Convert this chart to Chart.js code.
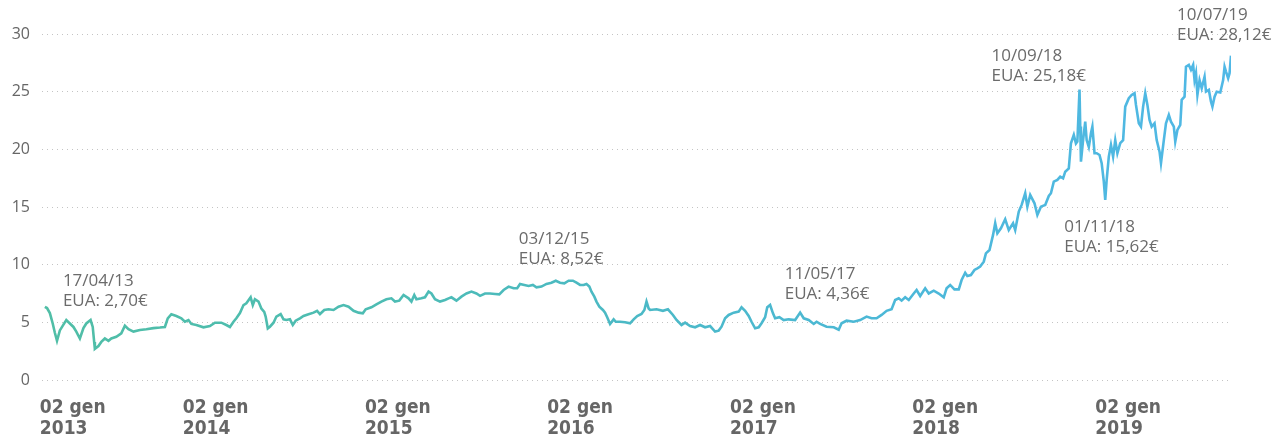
<!DOCTYPE html>
<html>
<head>
<meta charset="utf-8">
<script src="https://cdn.jsdelivr.net/npm/chart.js@4"></script>
<style>
  html, body { margin: 0; padding: 0; background: #fff; }
  #wrap { width: 1287px; height: 441px; }
</style>
</head>
<body>
<div id="wrap"><canvas id="lineChart" width="1287" height="441"></canvas></div>
<script>
// trading sessions since 02 gen 2013 and EUA price (€)
const sessions = [
    0, 3, 7, 11, 14, 17, 21, 26, 30, 35, 40, 44, 49, 54, 58, 64, 67, 69, 70, 75,
    79, 84, 89, 93, 100, 107, 112, 117, 124, 133, 142, 152, 161, 168, 172, 177, 184, 191, 196, 201,
    205, 212, 222, 231, 238, 247, 254, 259, 264, 268, 273, 278, 282, 288, 291, 294, 299, 303, 307, 309,
    312, 315, 320, 324, 330, 334, 338, 343, 347, 351, 357, 362, 369, 376, 381, 385, 391, 397, 404, 411,
    418, 425, 432, 439, 445, 449, 457, 464, 471, 478, 485, 490, 496, 502, 509, 513, 517, 520, 527, 532,
    537, 541, 546, 553, 560, 565, 569, 576, 583, 590, 597, 604, 609, 616, 623, 630, 636, 642, 649, 656,
    661, 665, 671, 677, 683, 688, 695, 702, 709, 715, 721, 727, 733, 739, 744, 749, 754, 758, 762, 765,
    769, 772, 776, 781, 784, 787, 791, 796, 799, 805, 812, 819, 824, 829, 835, 839, 842, 845, 847, 856,
    865, 872, 879, 884, 891, 896, 903, 910, 917, 924, 931, 938, 943, 947, 952, 957, 964, 971, 975, 980,
    985, 989, 994, 999, 1003, 1008, 1011, 1015, 1019, 1022, 1028, 1034, 1041, 1050, 1057, 1062, 1069, 1076, 1080, 1085,
    1094, 1104, 1111, 1115, 1122, 1132, 1141, 1150, 1157, 1164, 1171, 1178, 1185, 1190, 1195, 1199, 1204, 1209, 1216, 1220,
    1225, 1232, 1237, 1244, 1251, 1258, 1262, 1267, 1273, 1279, 1283, 1288, 1291, 1296, 1301, 1305, 1309, 1314, 1317, 1322,
    1327, 1330, 1333, 1338, 1344, 1349, 1355, 1358, 1363, 1367, 1372, 1375, 1379, 1385, 1389, 1394, 1400, 1405, 1408, 1412,
    1417, 1421, 1425, 1428, 1433, 1436, 1440, 1443, 1445, 1448, 1449, 1450, 1453, 1456, 1458, 1461, 1464, 1466, 1469, 1472,
    1476, 1479, 1482, 1484, 1486, 1489, 1492, 1495, 1498, 1501, 1505, 1509, 1512, 1517, 1521, 1525, 1527, 1531, 1534, 1537,
    1540, 1543, 1546, 1549, 1553, 1556, 1560, 1562, 1566, 1569, 1573, 1576, 1580, 1582, 1585, 1589, 1591, 1595, 1597, 1601,
    1604, 1607, 1609, 1611, 1613, 1616, 1619, 1623, 1625, 1629, 1632, 1634, 1637, 1640, 1645, 1649, 1651, 1653, 1656, 1658,
    1660
];

const prices = [
    6.35, 6.24, 5.8, 4.9, 4.1, 3.4, 4.3, 4.8, 5.2, 4.9, 4.6, 4.2, 3.6, 4.5, 4.9, 5.2, 4.6, 3.3, 2.70, 2.95,
    3.3, 3.6, 3.4, 3.6, 3.75, 4.05, 4.7, 4.4, 4.2, 4.34, 4.4, 4.5, 4.55, 4.6, 5.35, 5.7, 5.55, 5.35, 5.05, 5.2,
    4.86, 4.77, 4.57, 4.68, 4.97, 4.97, 4.77, 4.6, 5.05, 5.35, 5.8, 6.5, 6.65, 7.17, 6.5, 7.0, 6.8, 6.2, 5.9, 5.5,
    4.48, 4.62, 4.97, 5.5, 5.72, 5.26, 5.2, 5.26, 4.77, 5.14, 5.35, 5.55, 5.7, 5.84, 6.0, 5.72, 6.07, 6.13, 6.07, 6.36,
    6.5, 6.36, 6.0, 5.84, 5.78, 6.13, 6.3, 6.56, 6.8, 7.0, 7.08, 6.8, 6.88, 7.37, 7.08, 6.8, 7.37, 7.0, 7.08, 7.17,
    7.66, 7.5, 7.0, 6.8, 6.94, 7.08, 7.17, 6.88, 7.23, 7.5, 7.66, 7.5, 7.3, 7.5, 7.5, 7.46, 7.43, 7.8, 8.1, 7.95,
    7.95, 8.33, 8.24, 8.15, 8.24, 8.04, 8.1, 8.33, 8.44, 8.61, 8.44, 8.38, 8.61, 8.61, 8.44, 8.24, 8.24, 8.33, 8.1, 7.66,
    7.23, 6.8, 6.36, 6.07, 5.84, 5.44, 4.86, 5.26, 5.05, 5.05, 5.0, 4.92, 5.26, 5.55, 5.72, 6.07, 6.8, 6.2, 6.07, 6.13,
    6.0, 6.13, 5.64, 5.2, 4.77, 4.97, 4.68, 4.57, 4.77, 4.57, 4.68, 4.2, 4.28, 4.62, 5.35, 5.64, 5.84, 5.93, 6.3, 6.0,
    5.55, 5.05, 4.48, 4.57, 4.92, 5.44, 6.3, 6.5, 5.78, 5.35, 5.44, 5.2, 5.26, 5.2, 5.84, 5.35, 5.2, 4.86, 5.05, 4.86,
    4.62, 4.57, 4.36, 4.92, 5.14, 5.05, 5.2, 5.5, 5.35, 5.35, 5.64, 6.0, 6.13, 6.94, 7.08, 6.88, 7.17, 6.94, 7.5, 7.8,
    7.28, 7.95, 7.5, 7.74, 7.5, 7.17, 7.95, 8.24, 7.86, 7.86, 8.67, 9.3, 9.02, 9.1, 9.54, 9.68, 9.83, 10.26, 10.98, 11.27,
    12.58, 13.59, 12.72, 13.16, 13.94, 13.0, 13.59, 13.0, 14.6, 15.18, 16.19, 15.03, 16.04, 15.32, 14.31, 15.03, 15.18, 15.96, 16.19, 17.2,
    17.35, 17.63, 17.49, 18.06, 18.35, 20.53, 21.25, 20.5, 20.67, 25.18, 21.97, 18.93, 20.8, 22.4, 20.8, 20.2, 21.4, 21.97, 19.66, 19.66,
    19.51, 18.8, 17.2, 15.62, 17.35, 19.37, 20.38, 19.37, 20.8, 19.66, 20.53, 20.8, 23.7, 24.43, 24.72, 24.87, 23.85, 22.26, 21.97, 23.7,
    24.87, 23.85, 22.55, 21.97, 22.26, 20.8, 19.8, 18.8, 20.8, 22.26, 22.98, 22.4, 21.97, 20.67, 21.68, 22.12, 24.29, 24.57, 27.17, 27.32,
    26.9, 27.32, 26.0, 26.6, 24.72, 26.0, 25.3, 26.3, 25.0, 25.15, 24.14, 23.7, 24.57, 25.0, 24.93, 26.0, 27.17, 26.74, 26.16, 26.6,
    28.12
];

// first session of each year and its label
const yearSessions = [0, 200, 455, 710, 966, 1221, 1477];
const yearLabels = [
    ['02 gen', '2013'], ['02 gen', '2014'], ['02 gen', '2015'], ['02 gen', '2016'],
    ['02 gen', '2017'], ['02 gen', '2018'], ['02 gen', '2019']
];

const yTicks = [0, 5, 10, 15, 20, 25, 30];

// notable prices: the session they refer to, date and price
const noteSessions = [70, 715, 1111, 1448, 1484, 1660];
const noteDates = ['17/04/13', '03/12/15', '11/05/17', '10/09/18', '01/11/18', '10/07/19'];
const notePrices = [2.70, 8.52, 4.36, 25.18, 15.62, 28.12];
const notePriceText = ['2,70', '8,52', '4,36', '25,18', '15,62', '28,12'];
// where the text goes relative to the point, in pixels
const noteOffsets = [[-32, -68], [-37, -43], [-54, -56], [-88, -33], [-41, 27], [-54, -41]];

const noteLabels = {
    id: 'noteLabels',
    afterDatasetsDraw(chart) {
        const { ctx, scales } = chart;
        ctx.save();
        ctx.font = '17px "Open Sans", "Noto Sans", sans-serif';
        ctx.fillStyle = '#6b6b6b';
        ctx.textAlign = 'left';
        ctx.textBaseline = 'middle';
        noteSessions.forEach((s, i) => {
            const x = scales.x.getPixelForValue(s) + noteOffsets[i][0];
            const y = scales.y.getPixelForValue(notePrices[i]) + noteOffsets[i][1];
            ctx.fillText(noteDates[i], x, y);
            ctx.fillText('EUA: ' + notePriceText[i] + '€', x, y + 20);
        });
        ctx.restore();
    }
};

function lineGradient(context) {
    const { chart } = context;
    const area = chart.chartArea;
    if (!area) return '#4dbcb4';
    const g = chart.ctx.createLinearGradient(area.left, 0, area.right, 0);
    g.addColorStop(0, '#50bea6');
    g.addColorStop(0.3, '#4dbcb4');
    g.addColorStop(0.5, '#4bb9c6');
    g.addColorStop(0.72, '#4cb8d8');
    g.addColorStop(1, '#50b8e6');
    return g;
}

document.addEventListener('DOMContentLoaded', function () {
    const ctx = document.getElementById('lineChart').getContext('2d');
    new Chart(ctx, {
        type: 'line',
        data: {
            datasets: [{
                label: 'EUA',
                data: sessions.map((s, i) => ({ x: s, y: prices[i] })),
                borderColor: lineGradient,
                borderWidth: 2.6,
                pointRadius: 0,
                tension: 0,
                fill: false
            }]
        },
        options: {
            responsive: false,
            animation: false,
            layout: { padding: { top: 34, right: 56, left: 0, bottom: 0 } },
            plugins: {
                legend: { display: false },
                tooltip: { enabled: false }
            },
            scales: {
                x: {
                    type: 'linear',
                    min: -4,
                    max: 1660,
                    grid: { display: false },
                    border: { display: false },
                    afterBuildTicks: axis => {
                        axis.ticks = yearSessions.map(v => ({ value: v }));
                    },
                    afterFit: axis => { axis.height = 61; },
                    ticks: {
                        autoSkip: false,
                        maxRotation: 0,
                        align: 'start',
                        labelOffset: -5,
                        padding: 10,
                        color: '#666',
                        font: { family: '"DejaVu Sans Condensed", "Liberation Sans Narrow", sans-serif', size: 19, weight: 'bold', lineHeight: 1.1 },
                        callback: (value, index) => yearLabels[index]
                    }
                },
                y: {
                    min: 0,
                    max: 30,
                    grid: { color: '#c4c4c4', lineWidth: 1, drawTicks: false },
                    border: { display: false, dash: [1, 4] },
                    afterBuildTicks: axis => {
                        axis.ticks = yTicks.map(v => ({ value: v }));
                    },
                    afterFit: axis => { axis.width = 42; },
                    ticks: {
                        padding: 12,
                        color: '#666',
                        font: { family: '"Open Sans", "Noto Sans", sans-serif', size: 16 }
                    }
                }
            }
        },
        plugins: [noteLabels]
    });
});
</script>
</body>
</html>
